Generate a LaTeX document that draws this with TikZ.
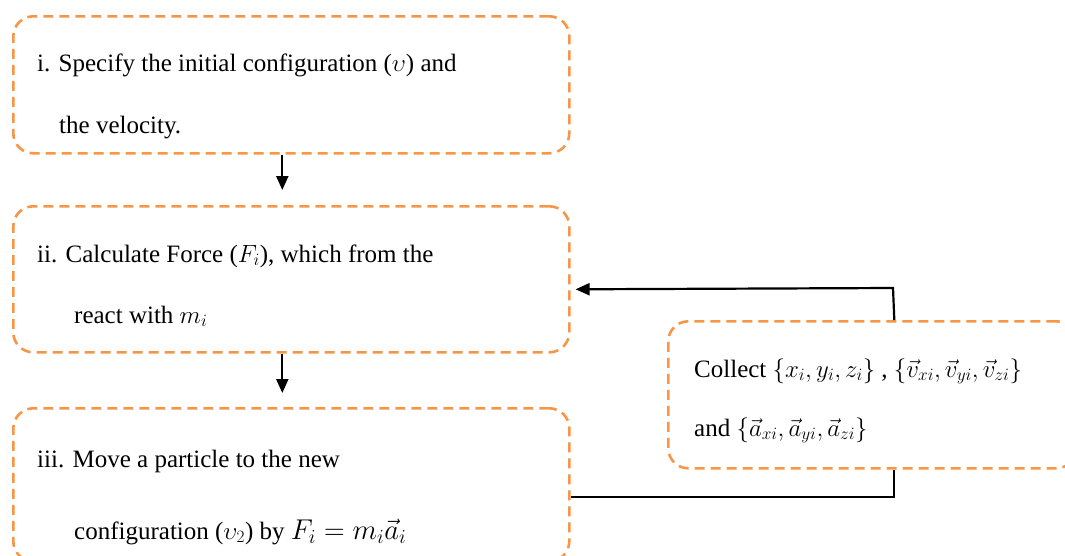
\documentclass[tikz,border=0pt]{standalone}
\usepackage{fontspec}
\usepackage{graphicx}
\setmainfont{Liberation Serif}
\usetikzlibrary{arrows.meta}
\definecolor{boxorange}{HTML}{F79646}
\tikzset{
  stepbox/.style={draw=boxorange, line width=2.6pt, dash pattern=on 10pt off 6pt, rounded corners=20pt, inner sep=0pt, anchor=north west},
  arr/.style={line width=2.2pt, -{Triangle[length=14pt,width=12pt]}},
  plainline/.style={line width=2.2pt},
  txt/.style={anchor=base west, inner sep=0pt, font=\fontsize{25}{29}\selectfont}
}
\begin{document}
\begin{tikzpicture}[x=1pt,y=-1pt]
\useasboundingbox (0,0) rectangle (1065,555);
\clip (0,0) rectangle (1065,555);
\node[stepbox, minimum width=556pt, minimum height=137pt] (b1) at (12,15) {};
\node[stepbox, minimum width=556pt, minimum height=146pt] (b2) at (12,205) {};
\node[stepbox, minimum width=556pt, minimum height=153pt] (b3) at (12,407) {};
\node[stepbox, minimum width=408pt, minimum height=147pt] (b4) at (667,320) {};

\node[txt] (t1a) at (37,71) {i. Specify the initial configuration ($\upsilon$) and};
\node[txt] (t1b) at (59,133) {the velocity.};
\node[txt] (t2a) at (37,262) {ii. Calculate Force ($F_i$), which from the};
\node[txt] (t2b) at (74,323) {react with $m_i$};
\node[txt] (t3a) at (37,467) {iii. Move a particle to the new};
\node[txt] (t3b) at (74,539) {configuration ($\upsilon_2$) by \scalebox{1.15}{$F_i = m_i\vec{a}_i$}};
\node[txt] (t4a) at (694,377) {Collect $\{x_i, y_i, z_i\}$ , $\{\vec{v}_{xi}, \vec{v}_{yi}, \vec{v}_{zi}\}$};
\node[txt] (t4b) at (694,436) {and $\{\vec{a}_{xi}, \vec{a}_{yi}, \vec{a}_{zi}\}$};

\draw[arr, shorten >=15pt] ([xshift=-9pt]b1.south) -- ([xshift=-9pt]b2.north);
\draw[arr, shorten >=14pt] ([xshift=-9pt]b2.south) -- ([xshift=-9pt]b3.north);
\coordinate (fb) at (893,288);
\draw[arr] ([xshift=22pt]b4.north) -- (fb) -- ([xshift=5pt,yshift=-10pt]b2.east);
\draw[plainline] ([yshift=-12pt]b3.east) -| ([xshift=22pt]b4.south);
\end{tikzpicture}
\end{document}
